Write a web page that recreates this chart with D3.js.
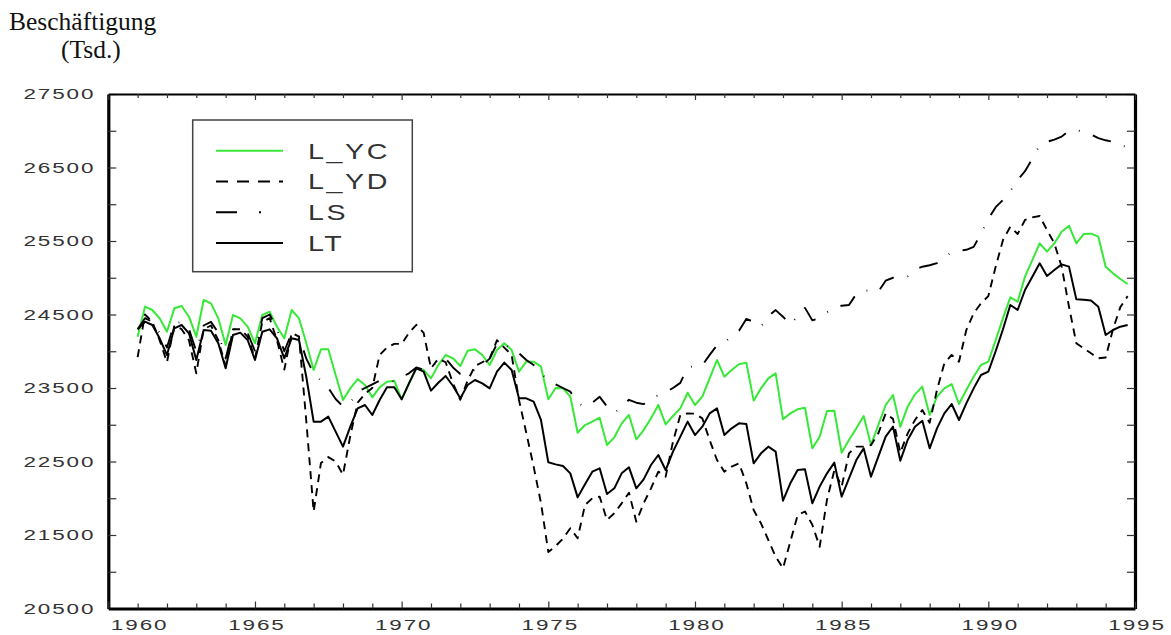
<!DOCTYPE html>
<html>
<head>
<meta charset="utf-8">
<script src="https://cdn.jsdelivr.net/npm/d3@7/dist/d3.min.js"></script>
<style>
  body { margin: 0; background: #fff; }
  svg { display: block; }
</style>
</head>
<body>
<svg id="chart" width="1171" height="635"></svg>
<script>
// quarterly values, first point = 1961 Q1 position on the axis
var firstYear = 1961;
var seriesNames = ["L_YC", "L_YD", "LS", "LT"];

var lycValues = [
    24198, 24606, 24561, 24448, 24266, 24584, 24615, 24470, 24198, 24697, 24652, 24448,
    24085, 24493, 24448, 24334, 24108, 24493, 24538, 24334, 24176, 24561, 24448, 24108,
    23745, 24026, 24026, 23677, 23337, 23495, 23622, 23541, 23373, 23509, 23586, 23600,
    23346, 23563, 23768, 23745, 23631, 23813, 23949, 23904, 23799, 24008, 24026, 23949,
    23813, 24017, 24108, 24017, 23722, 23858, 23858, 23790, 23346, 23500, 23495, 23382,
    22892, 22996, 23042, 23096, 22724, 22829, 23019, 23133, 22802, 22928, 23087, 23269,
    23006, 23119, 23223, 23436, 23269, 23382, 23631, 23881, 23654, 23745, 23822, 23845,
    23328, 23495, 23631, 23699, 23074, 23155, 23210, 23232, 22679, 22838, 23187, 23190,
    22620, 22792, 22951, 23119, 22724, 22997, 23269, 23405, 22974, 23246, 23414, 23518,
    23133, 23382, 23495, 23554, 23282, 23473, 23654, 23813, 23858, 24150, 24450, 24733,
    24674, 25015, 25241, 25468, 25355, 25468, 25627, 25708, 25468, 25595, 25600, 25559,
    25151, 25060, 24983, 24915
];

var lydValues = [
    23920, 24500, 24400, 24150, 23850, 24350, 24300, 24150, 23700, 24300, 24350, 24150,
    23800, 24300, 24300, 24200, 23900, 24400, 24450, 24150, 23750, 24250, 24200, 23050,
    21820, 22480, 22560, 22500, 22320, 22850, 23300, 23420, 23500, 23950, 24050, 24100,
    24100, 24250, 24360, 24250, 23768, 23900, 23850, 23564, 23340, 23600, 23800, 23850,
    23900, 24150, 24050, 23950, 23337, 22887, 22430, 21935, 21268, 21350, 21450, 21591,
    21455, 21908, 21999, 22021, 21704, 21795, 21931, 22076, 21681, 21931, 22135, 22362,
    22294, 22770, 23133, 23155, 23150, 23087, 22792, 22520, 22362, 22430, 22475, 22203,
    21840, 21659, 21432, 21205, 21046, 21410, 21770, 21820, 21640, 21340, 21980, 22380,
    22158, 22611, 22702, 22702, 22724, 22883, 23155, 23080, 22620, 22883, 23065, 23201,
    23028, 23473, 23836, 23949, 23858, 24289, 24516, 24652, 24750, 25151, 25513, 25695,
    25595, 25786, 25822, 25840, 25649, 25468, 25151, 24606, 24108, 24040, 23972, 23904,
    23915, 24300, 24600, 24750
];

var lsValues = [
    24300, 24450, 24400, 24250, 24050, 24380, 24400, 24300, 24000, 24350, 24400, 24250,
    23900, 24300, 24300, 24250, 24000, 24450, 24500, 24300, 24000, 24250, 24200, 23900,
    23700, 23600, 23500, 23350, 23250, 23296, 23450, 23500, 23550, 23600, 23600, 23590,
    23650, 23700, 23780, 23750, 23800, 23858, 23900, 23780, 23690, 23700, 23750, 23810,
    23900, 24100, 24110, 24017, 23972, 23880, 23813, 23700, 23600, 23550, 23500, 23450,
    23300, 23240, 23300, 23380, 23250, 23160, 23250, 23340, 23300, 23280, 23360, 23400,
    23440, 23500, 23570, 23780, 23800, 23810, 23950, 24080, 24120, 24200, 24280, 24440,
    24400, 24330, 24480, 24560, 24470, 24360, 24480, 24590, 24420, 24450, 24530, 24600,
    24620, 24630, 24780, 24830, 24820, 24810, 24960, 25000, 24990, 25020, 25110, 25150,
    25170, 25200, 25280, 25350, 25370, 25380, 25420, 25600, 25800, 25960, 26060, 26180,
    26330, 26450, 26620, 26800, 26850, 26880, 26920, 27000, 27010, 26980, 26950, 26900,
    26870, 26850, 26800, 26780
];

var ltValues = [
    24300, 24402, 24357, 24176, 23949, 24312, 24357, 24244, 23881, 24289, 24280, 24108,
    23768, 24221, 24253, 24153, 23881, 24266, 24298, 24176, 23904, 24176, 24153, 23650,
    23042, 23042, 23110, 22906, 22702, 22974, 23223, 23269, 23133, 23337, 23509, 23509,
    23346, 23563, 23768, 23722, 23464, 23572, 23663, 23527, 23359, 23541, 23609, 23563,
    23495, 23722, 23845, 23745, 23359, 23359, 23314, 23065, 22489, 22461, 22439, 22339,
    22012, 22190, 22362, 22407, 22058, 22135, 22339, 22421, 22135, 22257, 22452, 22588,
    22384, 22634, 22838, 23042, 22860, 22974, 23155, 23223, 22860, 22951, 23019, 23010,
    22475, 22611, 22702, 22634, 21967, 22203, 22384, 22393, 21931, 22158, 22339, 22484,
    22021, 22271, 22520, 22679, 22294, 22566, 22838, 22974, 22511, 22792, 22974, 23055,
    22679, 22951, 23155, 23282, 23065, 23291, 23495, 23677, 23722, 24000, 24300, 24629,
    24561, 24833, 25015, 25196, 25024, 25105, 25182, 25151, 24706, 24700, 24690, 24606,
    24221, 24289, 24334, 24357
];

var xTickYears = [1960, 1965, 1970, 1975, 1980, 1985, 1990, 1995];
var yTickValues = [20500, 21500, 22500, 23500, 24500, 25500, 26500, 27500];

window.onload = function () {
    var svg = d3.select("#chart");
    var plotLeft = 108.3, plotRight = 1135, plotTop = 94, plotBottom = 608.5;
    var stretch = 1.45; // the original uses a wide sans face

    var x = d3.scaleLinear().domain([1960, 1995]).range([plotLeft, plotRight]);
    var y = d3.scaleLinear().domain([20500, 27500]).range([plotBottom, plotTop]);

    svg.append("rect").attr("width", 1171).attr("height", 635).attr("fill", "#fff");

    // title
    svg.append("text").attr("x", 9).attr("y", 30)
        .style("font-family", "'Liberation Serif', 'DejaVu Serif', serif").style("font-size", "25.5px")
        .attr("fill", "#111").text("Beschäftigung");
    svg.append("text").attr("x", 61).attr("y", 58)
        .style("font-family", "'Liberation Serif', 'DejaVu Serif', serif").style("font-size", "25.5px")
        .attr("fill", "#111").text("(Tsd.)");

    var tickFont = function (sel) {
        sel.selectAll("text")
            .style("font-family", "'Liberation Sans', Arial, sans-serif")
            .style("font-size", "15.5px")
            .style("letter-spacing", "1.3px")
            .attr("transform", "scale(" + stretch + ",1)")
            .attr("fill", "#333");
    };

    var yMinor = d3.range(20500, 27501, 500);
    var xMinor = d3.range(1960, 1996, 1);

    // left axis
    var gLeft = svg.append("g").attr("transform", "translate(" + plotLeft + ",0)")
        .call(d3.axisLeft(y).tickValues(yMinor).tickSize(-8).tickSizeOuter(0).tickPadding(8)
            .tickFormat(function (d) { return yTickValues.indexOf(d) >= 0 ? d : ""; }));
    gLeft.select(".domain").attr("stroke", "#000").attr("stroke-width", 3.2);
    gLeft.selectAll(".tick line").attr("stroke", "#333").attr("stroke-width", 1.2);
    tickFont(gLeft);
    gLeft.selectAll(".tick text").attr("x", -13 / stretch);

    // right axis
    var gRight = svg.append("g").attr("transform", "translate(" + plotRight + ",0)")
        .call(d3.axisRight(y).tickValues(yMinor).tickSize(-8).tickSizeOuter(0).tickFormat(""));
    gRight.select(".domain").attr("stroke", "#000").attr("stroke-width", 3.2);
    gRight.selectAll(".tick line").attr("stroke", "#333").attr("stroke-width", 1.2);

    // top axis
    var gTop = svg.append("g").attr("transform", "translate(0," + plotTop + ")")
        .call(d3.axisTop(x).tickValues(xMinor).tickSize(-4).tickSizeOuter(0).tickFormat(""));
    gTop.select(".domain").attr("stroke", "#000").attr("stroke-width", 2.2);
    gTop.selectAll(".tick line").attr("stroke", "#333").attr("stroke-width", 1.2)
        .attr("y2", function (d) { return d % 5 === 0 ? 6 : 4; });

    // bottom axis
    var gBottom = svg.append("g").attr("transform", "translate(0," + plotBottom + ")")
        .call(d3.axisBottom(x).tickValues(xMinor).tickSize(-5).tickSizeOuter(0).tickPadding(10)
            .tickFormat(function (d) { return xTickYears.indexOf(d) >= 0 ? d : ""; }));
    gBottom.select(".domain").attr("stroke", "#000").attr("stroke-width", 3.2);
    gBottom.selectAll(".tick line").attr("stroke", "#333").attr("stroke-width", 1.2)
        .attr("y2", function (d) { return d % 5 === 0 ? -7 : -5; });
    tickFont(gBottom);
    // the first year label sits one tick in from the corner in the original
    gBottom.selectAll(".tick text")
        .attr("x", function (d) { return ((d === 1960 ? x(1961) - x(1960) : 0) + 1.5) / stretch; });

    // series
    var qx = function (d, i) { return x(firstYear + i / 4); };
    var line = d3.line().x(qx).y(function (d) { return y(d); });

    var styles = [
        { data: lycValues, color: "#38e838", dash: null, width: 2 },
        { data: lydValues, color: "#000", dash: "8,6", width: 1.9 },
        { data: lsValues, color: "#000", dash: "19,14,0.8,14", width: 1.9 },
        { data: ltValues, color: "#000", dash: null, width: 2 }
    ];

    var plot = svg.append("g");
    styles.forEach(function (s) {
        plot.append("path").datum(s.data)
            .attr("fill", "none")
            .attr("stroke", s.color)
            .attr("stroke-width", s.width)
            .attr("stroke-linejoin", "round")
            .attr("stroke-dasharray", s.dash)
            .attr("d", line);
    });

    // legend
    var legend = svg.append("g");
    legend.append("rect").attr("x", 192.7).attr("y", 120).attr("width", 219.6).attr("height", 151.7)
        .attr("fill", "none").attr("stroke", "#444").attr("stroke-width", 1.5);
    var legendY = d3.scalePoint().domain(seriesNames).range([150.7, 243]);
    var legendDash = [null, "12,9", "21,22,2,22", null];
    seriesNames.forEach(function (name, i) {
        legend.append("line")
            .attr("x1", 216).attr("x2", 283)
            .attr("y1", legendY(name)).attr("y2", legendY(name))
            .attr("stroke", styles[i].color).attr("stroke-width", 2)
            .attr("stroke-dasharray", legendDash[i]);
        legend.append("g")
            .attr("transform", "translate(308," + (legendY(name) + 8) + ") scale(1.3,1)")
            .append("text")
            .style("font-family", "'Liberation Sans', Arial, sans-serif")
            .style("font-size", "22px").style("letter-spacing", "2px")
            .attr("fill", "#333").text(name);
    });
};
</script>
</body>
</html>
